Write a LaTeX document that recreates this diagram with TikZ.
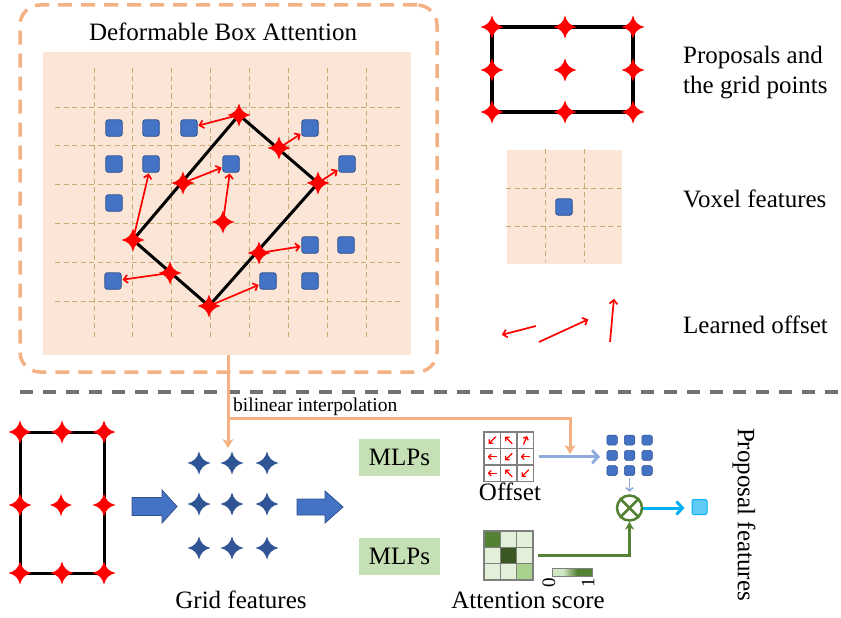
\documentclass[tikz,border=0pt]{standalone}
\usepackage{fontspec}
\setmainfont{Liberation Serif}
\usetikzlibrary{arrows.meta,calc}

\definecolor{peach}{HTML}{FBE5D6}
\definecolor{gridtan}{HTML}{C8AA74}
\definecolor{boxorange}{HTML}{F4B183}
\definecolor{voxblue}{HTML}{4472C4}
\definecolor{voxedge}{HTML}{2F528F}
\definecolor{gridblue}{HTML}{2F5597}
\definecolor{mlpgreen}{HTML}{C5E0B4}
\definecolor{offblue}{HTML}{8FAADC}
\definecolor{attgreen}{HTML}{548235}
\definecolor{attdark}{HTML}{385723}
\definecolor{attlight}{HTML}{E2F0D9}
\definecolor{attmid}{HTML}{A9D18E}
\definecolor{featcyan}{HTML}{00B0F0}
\definecolor{featfill}{HTML}{61CBF8}
\definecolor{sepgray}{HTML}{767171}
\definecolor{cellgray}{HTML}{7F7F7F}

% four-pointed star with concave sides: centre, radius, colour
\newcommand{\fourstar}[3]{%
  \fill[#3,shift={(#1)},scale=#2] (1,0) .. controls (.4,.17) and (.17,.4) .. (0,1)
    .. controls (-.17,.4) and (-.4,.17) .. (-1,0)
    .. controls (-.4,-.17) and (-.17,-.4) .. (0,-1)
    .. controls (.17,-.4) and (.4,-.17) .. cycle;}

\begin{document}
\begin{tikzpicture}[x=1pt,y=-1pt,
  lbl/.style={font=\fontsize{25}{30}\selectfont, inner sep=0pt},
  vox/.style={draw=voxedge, fill=voxblue, line width=0.8pt, rounded corners=2.5pt,
    minimum size=16.5pt, inner sep=0pt},
  smallvox/.style={vox, minimum width=10.5pt, minimum height=10pt, rounded corners=1.8pt, line width=0.5pt},
  featgrid/.style={draw=gridtan, line width=1pt, dash pattern=on 5pt off 3.5pt},
  offset arrow/.style={draw=red, line width=1.7pt, -{Straight Barb[length=4pt,width=8pt]}, shorten >=0.8pt},
  edgeline/.style={line width=3pt, line join=round},
  cellarrow/.style={draw=red, line width=1.3pt, -{Straight Barb[length=2.6pt,width=5.5pt]}},
  bilin/.style={draw=boxorange, line width=3pt},
  bilintip/.style={-{Stealth[length=9pt,width=11pt,inset=2.5pt]}},
  blockarrow/.style={fill=voxblue, draw=voxedge, line width=0.8pt},
  mlp/.style={fill=mlpgreen, minimum width=81pt, minimum height=37pt, inner sep=0pt,
    font=\fontsize{25}{30}\selectfont},
  cellbox/.style={draw=cellgray, line width=1.2pt},
]
\useasboundingbox (0,0) rectangle (841,618);

% ---------------- Deformable box attention panel ----------------
\node[draw=boxorange, line width=3.5pt, dash pattern=on 14pt off 9pt, rounded corners=20pt,
      minimum width=417pt, minimum height=367pt, inner sep=0pt] (dba) at (228.5,188.5) {};
\node[lbl, anchor=base] (title) at (223,41) {Deformable Box Attention};
\node[fill=peach, minimum width=368pt, minimum height=303pt, inner sep=0pt] (feat) at (227,203.5) {};

\foreach \k in {0,...,7} \draw[featgrid] (94+38.9*\k,68) -- (94+38.9*\k,339);
\foreach \k in {0,...,5} \draw[featgrid] (55,107+38.8*\k) -- (400,107+38.8*\k);

% voxel features
\node[vox] (v11) at (114,128) {};
\node[vox] (v12) at (151,128) {};
\node[vox] (v13) at (189,128) {};
\node[vox] (v16) at (310,128) {};
\node[vox] (v21) at (114,164) {};
\node[vox] (v22) at (151,164) {};
\node[vox] (v24) at (231,164) {};
\node[vox] (v27) at (347,164) {};
\node[vox] (v31) at (114,203) {};
\node[vox] (v46) at (310,245) {};
\node[vox] (v47) at (346,245) {};
\node[vox] (v51) at (113,281) {};
\node[vox] (v55) at (268,281) {};
\node[vox] (v56) at (310,281) {};

% rotated proposal and its grid points
\coordinate (pt) at (239,115);
\coordinate (pr) at (318,183);
\coordinate (pb) at (209,306);
\coordinate (pl) at (133,240);
\coordinate (ptl) at (183,183);
\coordinate (ptr) at (279,148);
\coordinate (pbr) at (259,253);
\coordinate (pbl) at (170,273);
\coordinate (pc) at (223,222);

\draw[offset arrow] (pt) -- (v13);
\draw[offset arrow] (ptr) -- (v16);
\draw[offset arrow] (pr) -- (v27);
\draw[offset arrow] (ptl) -- (v24);
\draw[offset arrow] (pl) -- (v22);
\draw[offset arrow] (pc) -- (v24);
\draw[offset arrow] (pbr) -- (v46);
\draw[offset arrow] (pbl) -- (v51);
\draw[offset arrow] (pb) -- (v55);

\draw[edgeline] (pt) -- (pr) -- (pb) -- (pl) -- cycle;
\foreach \p in {pt,pr,pb,pl,ptl,ptr,pbr,pbl,pc} \fourstar{\p}{11.5}{red};

% ---------------- legend ----------------
\coordinate (la) at (492,27);
\coordinate (lb) at (565,27);
\coordinate (lc) at (633,27);
\coordinate (ld) at (492,70);
\coordinate (le) at (565,70);
\coordinate (lf) at (633,70);
\coordinate (lg) at (492,112);
\coordinate (lh) at (565,112);
\coordinate (li) at (633,112);
\draw[edgeline, line width=3.5pt] (la) -- (lc) -- (li) -- (lg) -- cycle;
\foreach \p in {la,lb,lc,ld,le,lf,lg,lh,li} \fourstar{\p}{11.5}{red};
\node[lbl, anchor=base west] (prop1) at (683,64) {Proposals and};
\node[lbl, anchor=base west] (prop2) at (683,94) {the grid points};

\node[fill=peach, minimum width=115pt, minimum height=114pt, inner sep=0pt] (voxleg) at (564.5,207) {};
\foreach \x in {545,584} \draw[featgrid] (\x,149) -- (\x,262);
\foreach \y in {188,226} \draw[featgrid] (506,\y) -- (621,\y);
\node[vox] (vleg) at (564,207) {};
\node[lbl, anchor=base west] (voxl) at (683,207) {Voxel features};

\coordinate (o1a) at (536,326);
\coordinate (o1b) at (501,335);
\coordinate (o2a) at (539,342);
\coordinate (o2b) at (589,319);
\coordinate (o3a) at (610,342);
\coordinate (o3b) at (614,298);
\draw[offset arrow] (o1a) -- (o1b);
\draw[offset arrow] (o2a) -- (o2b);
\draw[offset arrow] (o3a) -- (o3b);
\node[lbl, anchor=base west] (offl) at (683,333) {Learned offset};

% ---------------- separator ----------------
\coordinate (sepl) at (20,392);
\coordinate (sepr) at (841,392);
\draw[sepgray, line width=3.5pt, dash pattern=on 13pt off 10pt] (sepl) -- (sepr);

% ---------------- pipeline ----------------
% proposal with grid points
\coordinate (qa) at (20,432);
\coordinate (qb) at (62,432);
\coordinate (qc) at (104,432);
\coordinate (qd) at (20,505);
\coordinate (qe) at (61,505);
\coordinate (qf) at (104,505);
\coordinate (qg) at (20,573);
\coordinate (qh) at (62,573);
\coordinate (qi) at (104,573);
\draw[edgeline] (qa) -- (qc) -- (qi) -- (qg) -- cycle;
\foreach \p in {qa,qb,qc,qd,qf,qg,qh,qi} \fourstar{\p}{11.5}{red};
\fourstar{qe}{11}{red};

% block arrows
\draw[blockarrow] (132,497.5) -- (162,497.5) -- (162,490) -- (177,506.5) -- (162,523) -- (162,515.5) -- (132,515.5) -- cycle;
\draw[blockarrow] (297,499) -- (325,499) -- (325,491) -- (343,507) -- (325,523) -- (325,515) -- (297,515) -- cycle;

% grid features
\foreach \x/\c in {199/1,232/2,267/3}
  \foreach \y/\r in {463/1,504/2,548/3}
    {\coordinate (g\r\c) at (\x,\y); \fourstar{g\r\c}{11.5}{gridblue};}
\node[lbl, anchor=base] (gridl) at (241,608) {Grid features};

% bilinear interpolation connector
\coordinate (bs) at (228,355);
\coordinate (bj) at (228,418);
\coordinate (bgt) at (228,448);
\coordinate (bk) at (570,418);
\coordinate (bot) at (570,454);
\draw[bilin, bilintip] (bs) -- (bgt);
\draw[bilin, bilintip] (bj) -- (bk) -- (bot);
\node[font=\fontsize{19.5}{22}\selectfont, inner sep=0pt, anchor=base west] (bil) at (233,411) {bilinear interpolation};

% MLPs
\node[mlp] (mlp1) at (399.5,457.5) {MLPs};
\node[mlp] (mlp2) at (399.5,556.5) {MLPs};

% offset grid
\node[cellbox, minimum size=49.5pt, inner sep=0pt] (offg) at (508.75,456.75) {};
\foreach \k in {1,2} {
  \draw[cellbox] (484+16.5*\k,432) -- (484+16.5*\k,481.5);
  \draw[cellbox] (484,432+16.5*\k) -- (533.5,432+16.5*\k);
}
\foreach \i/\j/\dx/\dy in {0/0/-3.5/3.5, 1/0/-3.5/-3.5, 2/0/1.8/-4.2,
                           0/1/-4.5/0, 1/1/-3.5/3.5, 2/1/-4.5/0,
                           0/2/-4.5/0, 1/2/-3.5/-3.5, 2/2/-3.5/3.5}
  \draw[cellarrow] (492.25+16.5*\i-\dx, 440.25+16.5*\j-\dy) -- (492.25+16.5*\i+\dx, 440.25+16.5*\j+\dy);
\node[lbl, anchor=base] (offlab) at (510,500) {Offset};

% sampled features
\foreach \x/\c in {612/1,629.5/2,647/3}
  \foreach \y/\r in {440/1,455.3/2,470.6/3}
    \node[smallvox] (s\r\c) at (\x,\y) {};

\draw[draw=offblue, line width=2.8pt, -{Straight Barb[length=6pt,width=13pt]}, shorten <=4.5pt, shorten >=6.5pt]
  (offg.east) -- (offg.east -| s21.west);

% weighted sum
\node[circle, draw=attgreen, line width=2.5pt, minimum size=25pt, inner sep=0pt] (mul) at (629.5,508) {};
\draw[attgreen, line width=2.5pt] (mul.45) -- (mul.225) (mul.135) -- (mul.315);
\draw[draw=offblue, line width=1.6pt, -{Straight Barb[length=3pt,width=7pt]}, shorten <=2.5pt, shorten >=2.5pt]
  (s32.south) -- (mul.north);

\node[draw=featcyan, fill=featfill, line width=1pt, rounded corners=2pt, minimum size=15pt, inner sep=0pt] (pf) at (699.5,507) {};
\draw[draw=featcyan, line width=3pt, -{Straight Barb[length=6pt,width=13pt]}, shorten >=7pt]
  (mul.east) -- (mul.east -| pf.west);
\node[lbl, rotate=-90] (pfl) at (744,514.5) {Proposal features};

% attention score
\node[minimum size=49pt, inner sep=0pt] (attg) at (508.5,555.5) {};
\foreach \i/\j/\col in {0/0/attgreen, 1/0/attlight, 2/0/attlight,
                        0/1/attlight, 1/1/attdark, 2/1/attlight,
                        0/2/attlight, 1/2/attlight, 2/2/attmid}
  \filldraw[fill=\col, cellbox] (484+16.33*\i,531+16.33*\j) rectangle ++(16.33,16.33);
\node[lbl, anchor=base] (attl) at (528,608) {Attention score};

\draw[attgreen, line width=3pt, -{Stealth[length=8pt,width=9pt]}, shorten <=4.5pt]
  (attg.east) -| (mul.south);

% colour bar
\fill[mlpgreen!80!white] (552,568) rectangle (563,576);
\shade[left color=mlpgreen!80!white, right color=attgreen] (563,568) rectangle (577,576);
\fill[attgreen] (577,568) rectangle (592,576);
\draw[cellgray, line width=1pt] (552,568) rectangle (592,576);
\node[font=\fontsize{19}{22}\selectfont, inner sep=0pt, rotate=90] (c0) at (549,583) {0};
\node[font=\fontsize{19}{22}\selectfont, inner sep=0pt, rotate=90] (c1) at (588,583) {1};

\end{tikzpicture}
\end{document}
